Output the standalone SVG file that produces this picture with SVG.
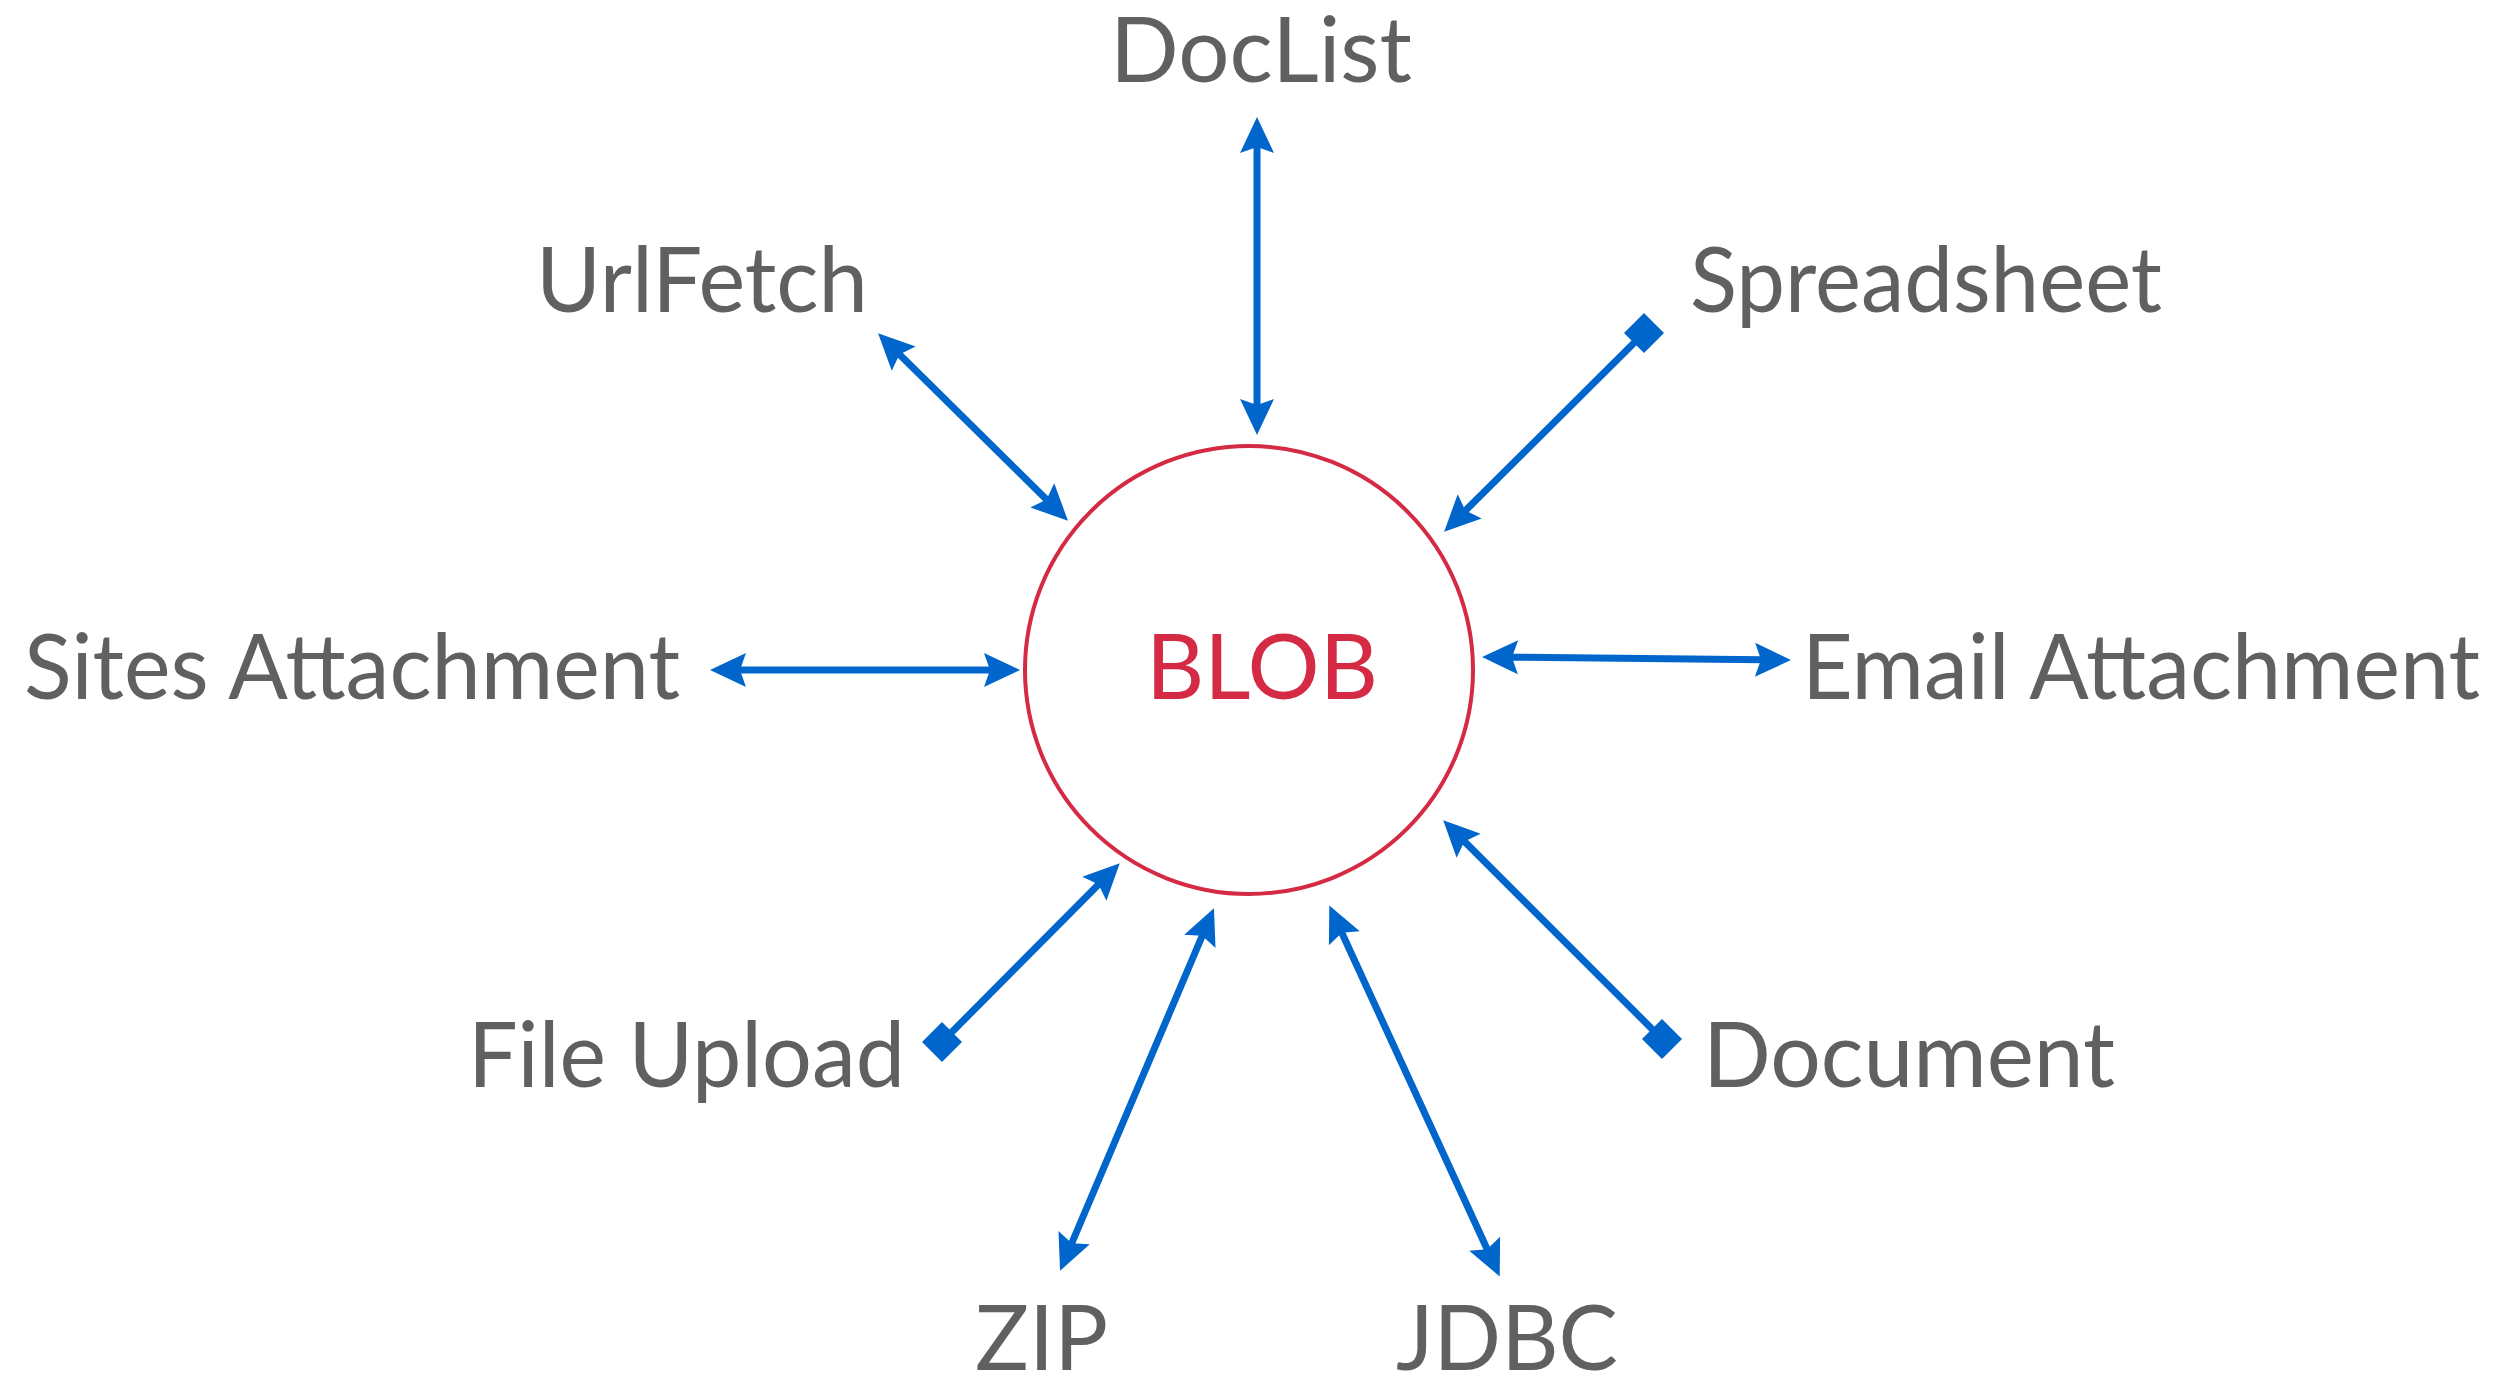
<svg xmlns="http://www.w3.org/2000/svg" width="2507" height="1391" viewBox="0 0 2507 1391">
<style>
.lbl{font-family:Lato,"Open Sans","Liberation Sans",sans-serif;font-size:92px;fill:#606060}
.blob{font-family:Lato,"Open Sans","Liberation Sans",sans-serif;font-size:92px;fill:#d42a44}
.conn{stroke:#0066cc;stroke-width:7;fill:none}
</style>
<defs>
<marker id="arr" markerUnits="userSpaceOnUse" markerWidth="42" markerHeight="40" viewBox="-2 -20 42 40" refX="8" refY="0" orient="auto-start-reverse">
<path d="M0,-17 L36,0 L0,17 L6,0 z" fill="#0066cc"/>
</marker>
<marker id="dia" markerUnits="userSpaceOnUse" markerWidth="44" markerHeight="44" viewBox="-22 -22 44 44" refX="0" refY="0" orient="0">
<path d="M-20,0 L0,-20 L20,0 L0,20 z" fill="#0066cc"/>
</marker>
</defs>
<rect width="2507" height="1391" fill="#ffffff"/>
<g id="connectors">
<line class="conn" x1="1257" y1="145" x2="1257" y2="407" marker-start="url(#arr)" marker-end="url(#arr)"/>
<line class="conn" x1="898" y1="353" x2="1048" y2="501" marker-start="url(#arr)" marker-end="url(#arr)"/>
<line class="conn" x1="1644" y1="333" x2="1464" y2="512" marker-start="url(#dia)" marker-end="url(#arr)"/>
<line class="conn" x1="738" y1="670" x2="992" y2="670" marker-start="url(#arr)" marker-end="url(#arr)"/>
<line class="conn" x1="1510" y1="657.2" x2="1763" y2="659.8" marker-start="url(#arr)" marker-end="url(#arr)"/>
<line class="conn" x1="942" y1="1042" x2="1100" y2="883" marker-start="url(#dia)" marker-end="url(#arr)"/>
<line class="conn" x1="1071" y1="1245" x2="1203" y2="934" marker-start="url(#arr)" marker-end="url(#arr)"/>
<line class="conn" x1="1341" y1="931" x2="1488" y2="1251" marker-start="url(#arr)" marker-end="url(#arr)"/>
<line class="conn" x1="1662" y1="1039" x2="1463" y2="840" marker-start="url(#dia)" marker-end="url(#arr)"/>
</g>
<g id="blob">
<circle cx="1249" cy="670" r="224" fill="none" stroke="#d42a44" stroke-width="4"/>
<text class="blob" x="1146" y="699" textLength="232" lengthAdjust="spacingAndGlyphs">BLOB</text>
</g>
<g id="doclist"><text class="lbl" x="1110" y="82" textLength="302" lengthAdjust="spacingAndGlyphs">DocList</text></g>
<g id="urlfetch"><text class="lbl" x="536" y="312" textLength="332" lengthAdjust="spacingAndGlyphs">UrlFetch</text></g>
<g id="spreadsheet"><text class="lbl" x="1690" y="312" textLength="472" lengthAdjust="spacingAndGlyphs">Spreadsheet</text></g>
<g id="sites"><text class="lbl" x="24" y="699" textLength="656" lengthAdjust="spacingAndGlyphs">Sites Attachment</text></g>
<g id="email"><text class="lbl" x="1802" y="699" textLength="678" lengthAdjust="spacingAndGlyphs">Email Attachment</text></g>
<g id="fileupload"><text class="lbl" x="468" y="1087" textLength="437" lengthAdjust="spacingAndGlyphs">File Upload</text></g>
<g id="document"><text class="lbl" x="1703" y="1087" textLength="412" lengthAdjust="spacingAndGlyphs">Document</text></g>
<g id="zip"><text class="lbl" x="975" y="1370" textLength="133" lengthAdjust="spacingAndGlyphs">ZIP</text></g>
<g id="jdbc"><text class="lbl" x="1396" y="1370" textLength="222" lengthAdjust="spacingAndGlyphs">JDBC</text></g>
</svg>
